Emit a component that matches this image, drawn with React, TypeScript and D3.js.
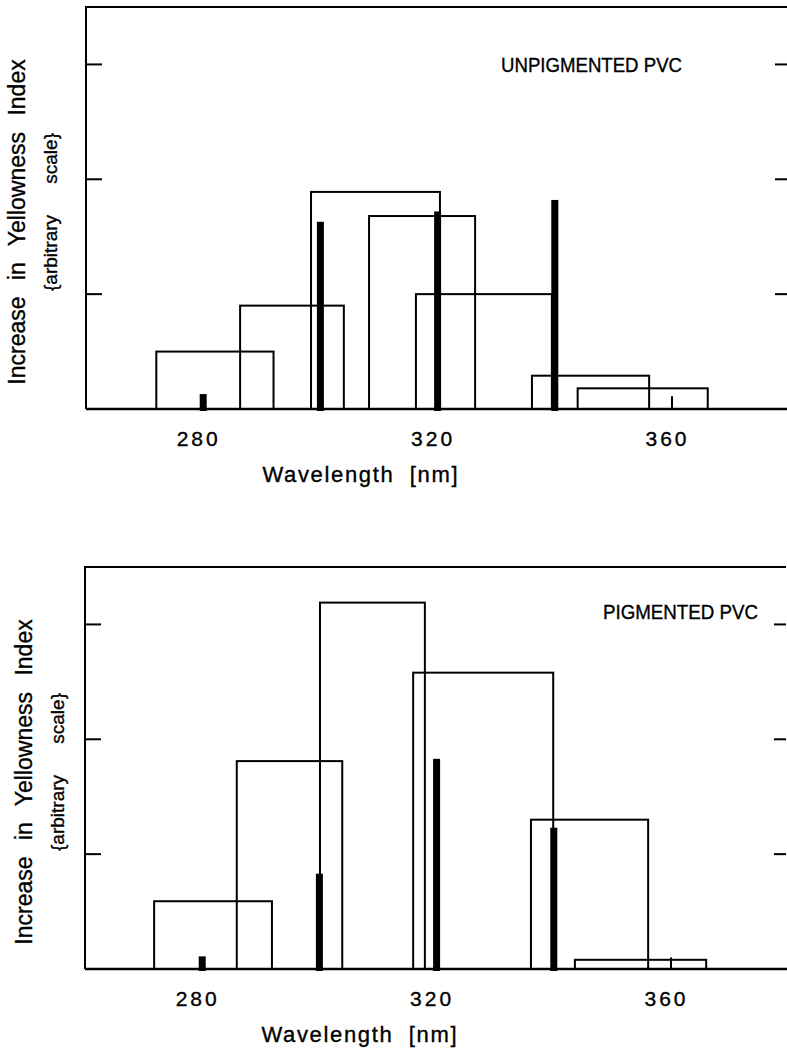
import * as React from 'react';
import { scaleLinear } from 'd3';

// wavelength axis
const wavelengthTicks = [280, 320, 360];
const yTicks = [1, 2, 3];

// monochromatic exposures (thick bars)
const lineWavelengths = [280, 300, 320, 340];
const traceWavelength = 360;

// UNPIGMENTED PVC: broad band filters (start nm, end nm, increase)
const unpigBandStart = [272, 286.3, 298.4, 308.3, 316.3, 336.1, 343.9];
const unpigBandEnd = [292, 304, 320.4, 326.4, 339.5, 356.1, 366.1];
const unpigBandValue = [0.5, 0.9, 1.89, 1.68, 1.0, 0.29, 0.18];
const unpigLineValue = [0.13, 1.63, 1.72, 1.82];
const unpigTrace = 0.11;

// PIGMENTED PVC
const pigBandStart = [271.8, 285.9, 300.1, 316.0, 336.1, 343.6];
const pigBandEnd = [291.9, 303.9, 318.0, 339.9, 356.1, 366.0];
const pigBandValue = [0.59, 1.81, 3.19, 2.58, 1.3, 0.08];
const pigLineValue = [0.11, 0.83, 1.83, 1.23];
const pigTrace = 0.1;

const FONT = '"Liberation Sans", Arial, Helvetica, sans-serif';

interface IPanel {
    title: string;
    titleX: number;
    titleY: number;
    titleLen: number;
    bandStart: number[];
    bandEnd: number[];
    bandValue: number[];
    lineValue: number[];
    trace: number;
    dx: number;
    dy: number;
    labelX: number;
}

const Panel = (p: IPanel): JSX.Element => {
    const x = scaleLinear().domain([260, 380]).range([86, 789.2]);
    const y = scaleLinear().domain([0, 3.5]).range([409, 7]);
    const x0 = x(260);
    const y0 = y(0);
    // printed type looks slightly heavier than regular
    const ink = { stroke: '#000', strokeWidth: 0.35 };

    return (
        <g transform={`translate(${p.dx},${p.dy})`} fontFamily={FONT}>
            {/* frame */}
            <path d={`M${x0},${y0} L${x0},${y(3.5)} L787,${y(3.5)}`} fill="none" stroke="#000" strokeWidth={2} />
            <line x1={x0} x2={790} y1={y0} y2={y0} stroke="#000" strokeWidth={2.5} />
            {yTicks.map(t => (
                <g key={t}>
                    <line x1={x0} x2={x0 + 16} y1={y(t)} y2={y(t)} stroke="#000" strokeWidth={2} />
                    <line x1={775} x2={787} y1={y(t)} y2={y(t)} stroke="#000" strokeWidth={2} />
                </g>
            ))}

            {/* broad band rectangles */}
            {p.bandValue.map((v, i) => (
                <rect
                    key={i}
                    x={x(p.bandStart[i])}
                    y={y(v)}
                    width={x(p.bandEnd[i]) - x(p.bandStart[i])}
                    height={y0 - y(v)}
                    fill="none"
                    stroke="#000"
                    strokeWidth={2}
                />
            ))}

            {/* monochromatic bars */}
            {p.lineValue.map((v, i) => (
                <rect
                    key={i}
                    x={x(lineWavelengths[i]) - 3.5}
                    y={y(v)}
                    width={7}
                    height={y0 - y(v) + 2}
                    fill="#000"
                />
            ))}
            <line x1={x(traceWavelength)} x2={x(traceWavelength)} y1={y(p.trace)} y2={y0} stroke="#000" strokeWidth={2} />

            {/* x tick labels */}
            {wavelengthTicks.map(t => (
                <text key={t} x={x(t) - 6} y={y0 + 37} fontSize={21} textAnchor="middle" textLength={41} lengthAdjust="spacing" {...ink}>
                    {t}
                </text>
            ))}
            <text x={360} y={y0 + 73} fontSize={22} textAnchor="middle" textLength={195} lengthAdjust="spacing" style={{ whiteSpace: 'pre' }} {...ink}>
                {'Wavelength  [nm]'}
            </text>

            {/* y axis title */}
            <text
                transform={`translate(${p.labelX},${222}) rotate(-90)`}
                fontSize={23}
                textAnchor="middle"
                wordSpacing={10}
                {...ink}
            >
                Increase in Yellowness Index
            </text>
            <text
                transform={`translate(${p.labelX + 32},${212}) rotate(-90)`}
                fontSize={19}
                textAnchor="middle"
                wordSpacing={26}
                {...ink}
            >
                {'{arbitrary scale}'}
            </text>

            <text x={p.titleX} y={p.titleY} fontSize={20} textLength={p.titleLen} lengthAdjust="spacingAndGlyphs" {...ink}>
                {p.title}
            </text>
        </g>
    );
};

export default function App(): JSX.Element {
    return (
        <svg width={787} height={1056} style={{ position: 'absolute', left: 0, top: 0, background: '#fff' }}>
            <Panel
                title="UNPIGMENTED PVC"
                titleX={501}
                titleY={72}
                titleLen={181}
                bandStart={unpigBandStart}
                bandEnd={unpigBandEnd}
                bandValue={unpigBandValue}
                lineValue={unpigLineValue}
                trace={unpigTrace}
                dx={0}
                dy={0}
                labelX={25}
            />
            <Panel
                title="PIGMENTED PVC"
                titleX={604}
                titleY={59}
                titleLen={155}
                bandStart={pigBandStart}
                bandEnd={pigBandEnd}
                bandValue={pigBandValue}
                lineValue={pigLineValue}
                trace={pigTrace}
                dx={-1}
                dy={560}
                labelX={33}
            />
        </svg>
    );
}
